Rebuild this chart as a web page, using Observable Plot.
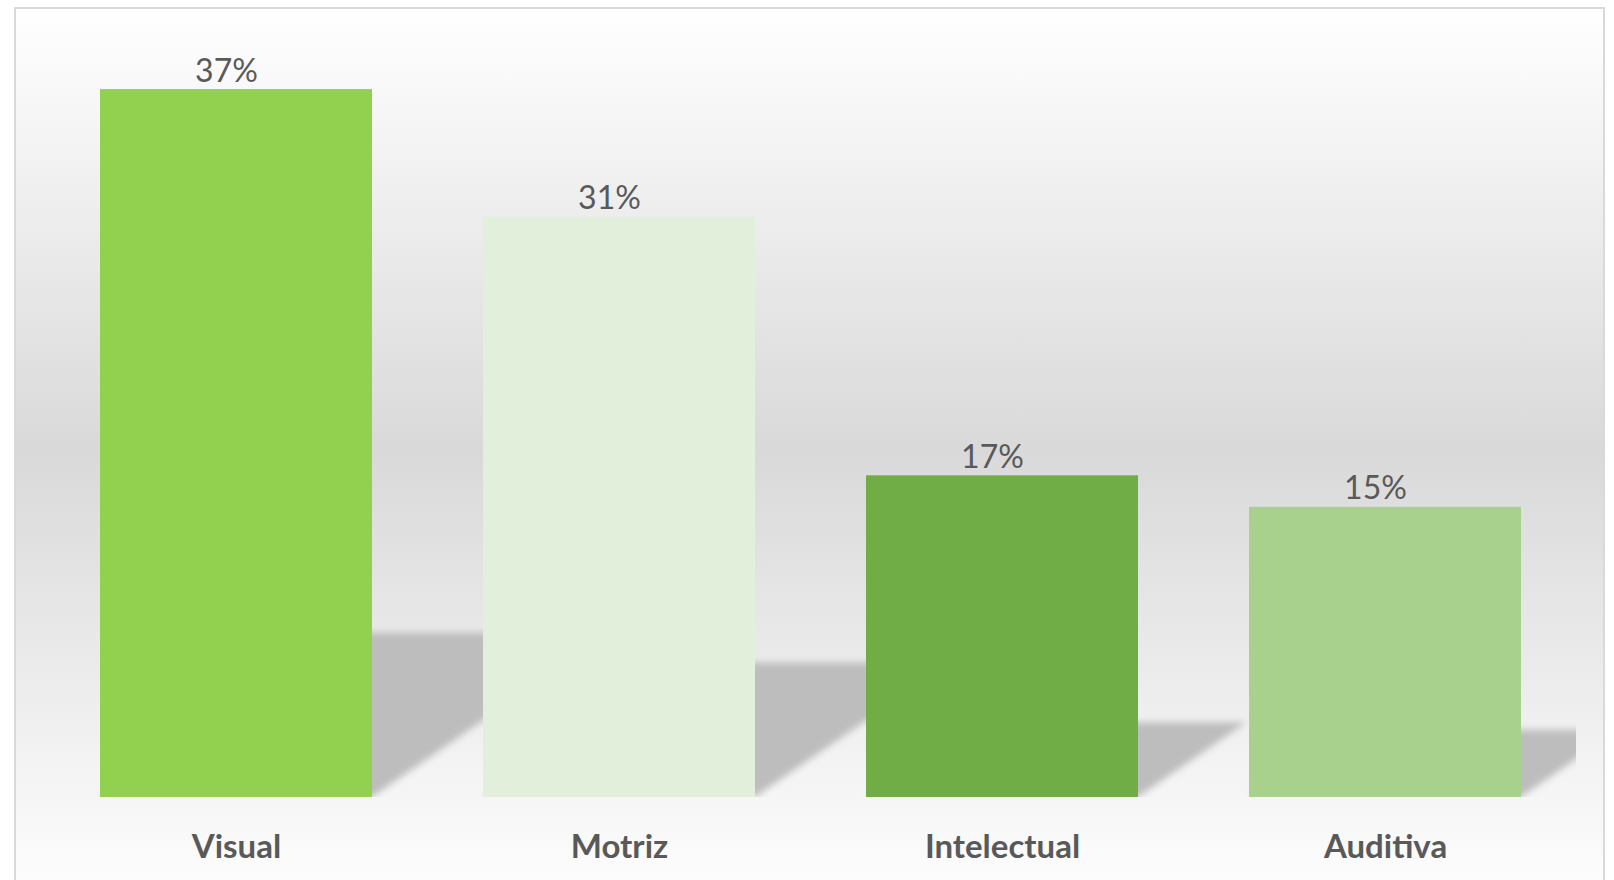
<!DOCTYPE html>
<html>
<head>
<meta charset="utf-8">
<script src="https://cdn.jsdelivr.net/npm/d3@7"></script>
<script src="https://cdn.jsdelivr.net/npm/@observablehq/plot@0.6"></script>
<style>
  html, body { margin: 0; padding: 0; background: #ffffff; width: 1614px; height: 880px; overflow: hidden; }
  #frame {
    position: absolute; left: 14px; top: 7px; width: 1587px; height: 900px;
    border: 2px solid #d9d9d9;
    background: linear-gradient(to bottom, #ffffff 0%, #d9d9d9 49%, #ffffff 100%);
  }
  #chart { position: absolute; left: 0; top: 0; }
</style>
</head>
<body>
<div id="frame"></div>
<div id="chart"></div>
<script>
const categories = ["Visual", "Motriz", "Intelectual", "Auditiva"];
const values = [0.3726, 0.3054, 0.1693, 0.1527];
const valueLabels = ["37%", "31%", "17%", "15%"];
const barColors = ["#92d050", "#e2efda", "#70ad47", "#a9d18e"];

const data = categories.map((c, i) => ({category: c, value: values[i], label: valueLabels[i]}));

const W = 1614, H = 880;
const mL = 44, mR = 38, mT = 37, mB = 83;

const chart = Plot.plot({
  width: W,
  height: H,
  marginLeft: mL,
  marginRight: mR,
  marginTop: mT,
  marginBottom: mB,
  style: {background: "transparent", fontFamily: "Lato, 'Open Sans', sans-serif", overflow: "visible"},
  x: {domain: categories, paddingInner: 0.29, paddingOuter: 0.145, axis: null},
  y: {domain: [0, 0.4], axis: null},
  color: {domain: categories, range: barColors},
  marks: [
    // shadow copy of the bars (first bar group; transformed below)
    Plot.barY(data, {x: "category", y: "value", fill: "#bdbdbd"}),
    Plot.barY(data, {x: "category", y: "value", fill: "category"}),
    Plot.text(data, {
      x: "category", y: "value", text: "label",
      lineAnchor: "bottom", dy: -8, dx: -10,
      fontSize: 32, fill: "#595959", fontFamily: "Lato"
    }),
    Plot.text(categories, {
      x: d => d, text: d => d, frameAnchor: "bottom",
      lineAnchor: "bottom", dy: 60,
      fontSize: 33, fontWeight: "bold", fill: "#595959", fontFamily: "Lato"
    })
  ]
});

document.getElementById("chart").appendChild(chart);

// Perspective shadow: shear + squash the shadow bars around the baseline, blur, clip to plot area
const svg = chart.tagName.toLowerCase() === "svg" ? chart : chart.querySelector("svg");
const ns = "http://www.w3.org/2000/svg";
const base = H - mB;

const defs = document.createElementNS(ns, "defs");
const filter = document.createElementNS(ns, "filter");
filter.setAttribute("id", "shadowBlur");
filter.setAttribute("x", "-20%");
filter.setAttribute("y", "-20%");
filter.setAttribute("width", "140%");
filter.setAttribute("height", "140%");
const blur = document.createElementNS(ns, "feGaussianBlur");
blur.setAttribute("stdDeviation", "3.5");
filter.appendChild(blur);
defs.appendChild(filter);
const clip = document.createElementNS(ns, "clipPath");
clip.setAttribute("id", "plotClip");
const clipRect = document.createElementNS(ns, "rect");
clipRect.setAttribute("x", mL);
clipRect.setAttribute("y", 0);
clipRect.setAttribute("width", W - mL - mR);
clipRect.setAttribute("height", base);
clip.appendChild(clipRect);
defs.appendChild(clip);
svg.insertBefore(defs, svg.firstChild);

// the first group that contains rects is the shadow copy
const barGroups = Array.from(svg.querySelectorAll("g")).filter(g => g.querySelector(":scope > rect"));
const shadowG = barGroups[0];
if (shadowG && barGroups.length > 1) {
  const k = 1.45, s = 0.232;
  const ang = -Math.atan(k) * 180 / Math.PI;
  const outer = document.createElementNS(ns, "g");
  outer.setAttribute("clip-path", "url(#plotClip)");
  const mid = document.createElementNS(ns, "g");
  mid.setAttribute("filter", "url(#shadowBlur)");
  const inner = document.createElementNS(ns, "g");
  inner.setAttribute("transform", `translate(0,${base}) skewX(${ang}) scale(1,${s}) translate(0,${-base})`);
  shadowG.parentNode.insertBefore(outer, shadowG);
  outer.appendChild(mid);
  mid.appendChild(inner);
  inner.appendChild(shadowG);
}
</script>
</body>
</html>
